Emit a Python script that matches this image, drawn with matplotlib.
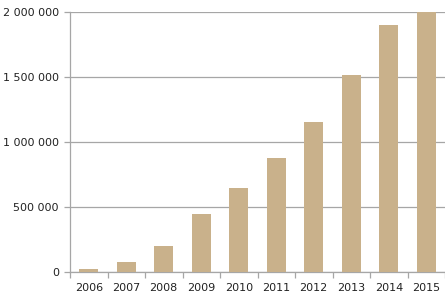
import matplotlib
matplotlib.use("Agg")
import matplotlib.pyplot as plt
from matplotlib.ticker import FuncFormatter, FixedLocator
import numpy as np

years = ["2006", "2007", "2008", "2009", "2010", "2011", "2012", "2013", "2014", "2015"]
values = [25000, 77000, 200000, 446000, 646000, 877000, 1154000, 1515000, 1900000, 2000000]
yticks = [0, 500000, 1000000, 1500000, 2000000]

W, H = 445, 296
fig = plt.figure(figsize=(W / 100, H / 100), dpi=100)
ax = fig.add_axes([70 / W, 24 / H, (W - 70) / W, 260 / H])

x = np.arange(len(years))
ax.bar(x, values, width=0.5, color="#C9B18B", zorder=3)
ax.set_xlim(-0.5, len(years) - 0.5)
ax.set_ylim(0, 2000000)
ax.set_yticks(yticks)
ax.yaxis.set_major_formatter(FuncFormatter(lambda v, p: f"{int(v):,}".replace(",", " ")))
ax.yaxis.grid(True, color="#A6A6A6", linewidth=0.9, zorder=0)

ax.set_xticks(x)
ax.set_xticklabels(years)
ax.xaxis.set_minor_locator(FixedLocator(np.arange(-0.5, len(years), 1.0)))
ax.tick_params(axis="x", which="major", length=0, pad=8, labelsize=8, labelcolor="#222222")
ax.tick_params(axis="x", which="minor", length=4, color="#A6A6A6", width=0.9)
ax.tick_params(axis="y", length=4, color="#A6A6A6", width=0.9, labelsize=8, labelcolor="#222222", pad=4)

for s in ["top", "right"]:
    ax.spines[s].set_visible(False)
for s in ["left", "bottom"]:
    ax.spines[s].set_color("#A6A6A6")
    ax.spines[s].set_linewidth(0.9)

fig.savefig("out.png", dpi=100)
